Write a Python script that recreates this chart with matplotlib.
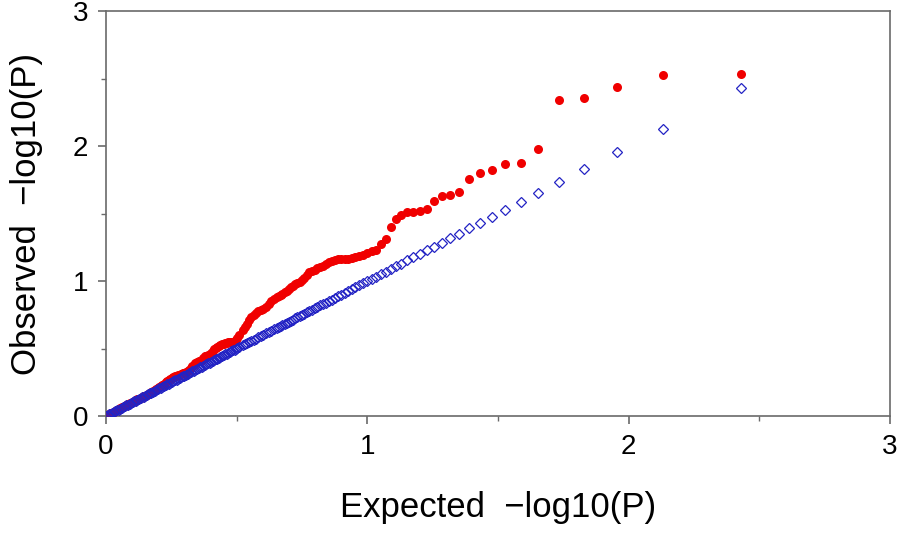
import matplotlib
matplotlib.use("Agg")
import matplotlib.pyplot as plt
from matplotlib.ticker import MultipleLocator

plt.rcParams["font.family"] = ["Liberation Sans", "DejaVu Sans"]

# expected -log10(P) for the plotted ranks (dense tail thinned)
expected = [
    0.000, 0.006, 0.012, 0.018, 0.024, 0.030, 0.036, 0.042, 0.048, 0.054,
    0.060, 0.066, 0.072, 0.078, 0.084, 0.090, 0.096, 0.102, 0.108, 0.114,
    0.120, 0.126, 0.132, 0.138, 0.144, 0.150, 0.156, 0.162, 0.168, 0.174,
    0.180, 0.186, 0.192, 0.198, 0.204, 0.210, 0.216, 0.222, 0.228, 0.234,
    0.240, 0.246, 0.252, 0.258, 0.264, 0.270, 0.276, 0.282, 0.288, 0.294,
    0.300, 0.306, 0.312, 0.318, 0.324, 0.330, 0.336, 0.342, 0.348, 0.354,
    0.360, 0.366, 0.372, 0.378, 0.384, 0.390, 0.396, 0.402, 0.408, 0.414,
    0.420, 0.426, 0.432, 0.438, 0.444, 0.450, 0.456, 0.462, 0.468, 0.474,
    0.480, 0.486, 0.492, 0.498,
    0.502, 0.510, 0.523, 0.531, 0.539, 0.548, 0.556, 0.565, 0.574, 0.583,
    0.592, 0.602, 0.612, 0.622, 0.632, 0.642, 0.653, 0.660, 0.668, 0.675,
    0.683, 0.691, 0.699, 0.707, 0.715, 0.724, 0.732, 0.741, 0.750, 0.759,
    0.769, 0.778, 0.788, 0.798, 0.808, 0.819, 0.829, 0.840, 0.852, 0.863,
    0.875, 0.887, 0.900, 0.913, 0.926, 0.940, 0.954, 0.969, 0.984, 1.000,
    1.017, 1.033, 1.051, 1.070, 1.089, 1.109, 1.130, 1.153, 1.176, 1.201,
    1.227, 1.255, 1.285, 1.317, 1.352, 1.390, 1.431, 1.477, 1.528, 1.586,
    1.653, 1.732, 1.829, 1.954, 2.130, 2.431,
]

# observed -log10(P), red series
observed = [
    0.000, 0.006, 0.012, 0.019, 0.025, 0.032, 0.038, 0.045, 0.051, 0.058,
    0.064, 0.070, 0.075, 0.081, 0.087, 0.093, 0.099, 0.105, 0.111, 0.117,
    0.123, 0.129, 0.134, 0.140, 0.146, 0.151, 0.157, 0.164, 0.170, 0.178,
    0.185, 0.192, 0.200, 0.207, 0.214, 0.222, 0.230, 0.240, 0.250, 0.258,
    0.266, 0.274, 0.283, 0.291, 0.296, 0.300, 0.303, 0.307, 0.312, 0.318,
    0.322, 0.326, 0.333, 0.344, 0.355, 0.368, 0.380, 0.392, 0.400, 0.404,
    0.408, 0.418, 0.432, 0.444, 0.447, 0.449, 0.452, 0.464, 0.480, 0.495,
    0.505, 0.512, 0.518, 0.524, 0.530, 0.535, 0.539, 0.542, 0.545, 0.547,
    0.549, 0.551, 0.556, 0.565,
    0.575, 0.600, 0.635, 0.660, 0.685, 0.712, 0.735, 0.752, 0.765, 0.775,
    0.785, 0.795, 0.810, 0.830, 0.850, 0.865, 0.880, 0.888, 0.898, 0.905,
    0.918, 0.930, 0.942, 0.955, 0.965, 0.975, 0.985, 0.995, 1.005, 1.025,
    1.045, 1.065, 1.075, 1.085, 1.095, 1.105, 1.115, 1.125, 1.140, 1.148,
    1.155, 1.160, 1.163, 1.165, 1.167, 1.170, 1.178, 1.187, 1.195, 1.205,
    1.220, 1.230, 1.274, 1.309, 1.402, 1.462, 1.489, 1.511, 1.511, 1.516,
    1.536, 1.595, 1.630, 1.637, 1.657, 1.758, 1.800, 1.825, 1.864, 1.872,
    1.978, 2.343, 2.356, 2.437, 2.528, 2.536,
]

# null series sits on the diagonal
null_obs = list(expected)

assert len(expected) == len(observed)

C_RED = "#f00000"
C_BLUE = "#2323c4"
C_AX = "#6a6a6a"

fig = plt.figure(figsize=(9.0, 5.33), dpi=100)
ax = fig.add_axes([0.1178, 0.2195, 0.8712, 0.7595])

ax.plot(expected, observed, "o", color=C_RED, ms=6.5, mew=0, zorder=3)
ax.plot(expected, null_obs, "D", color=C_BLUE, mfc="none", ms=4.8, mew=0.9, zorder=4)

ax.set_xlim(0, 3)
ax.set_ylim(0, 3)
ax.xaxis.set_major_locator(MultipleLocator(1))
ax.xaxis.set_minor_locator(MultipleLocator(0.5))
ax.yaxis.set_major_locator(MultipleLocator(1))
ax.yaxis.set_minor_locator(MultipleLocator(0.5))

for sp in ax.spines.values():
    sp.set_color(C_AX)
    sp.set_linewidth(1.2)
ax.tick_params(which="major", direction="out", length=6, width=1.2, color=C_AX,
               labelsize=20, pad=7)
ax.tick_params(which="minor", direction="out", length=3.5, width=1.0, color=C_AX)

ax.set_xlabel("Expected  \u2212log10(P)", fontsize=25, labelpad=22)
ax.set_ylabel("Observed  \u2212log10(P)", fontsize=25, labelpad=21)

fig.savefig("out.png", dpi=100, facecolor="white")
